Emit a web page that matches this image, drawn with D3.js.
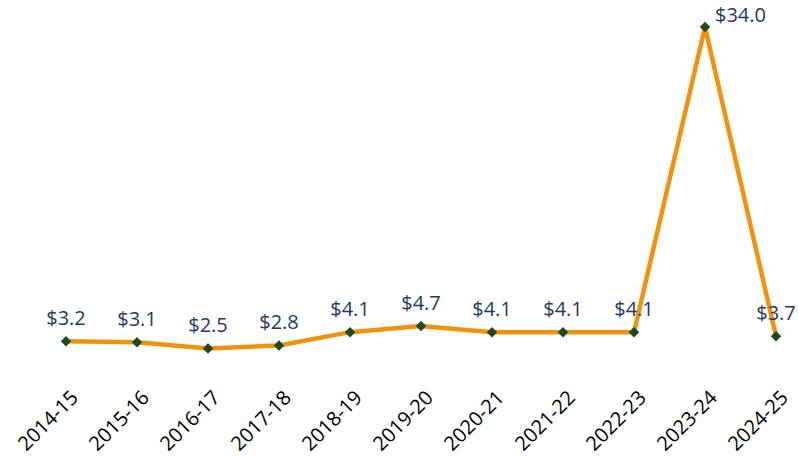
<!DOCTYPE html>
<html>
<head>
<meta charset="utf-8">
<script src="https://cdn.jsdelivr.net/npm/d3@7"></script>
<style>
  body { margin: 0; background: #fff; }
  svg { display: block; font-family: "Open Sans", "Liberation Sans", sans-serif; }
</style>
</head>
<body>
<div id="chart"></div>
<script>
const years = ["2014-15", "2015-16", "2016-17", "2017-18", "2018-19", "2019-20",
               "2020-21", "2021-22", "2022-23", "2023-24", "2024-25"];
const values = [3.2, 3.1, 2.5, 2.8, 4.1, 4.7, 4.1, 4.1, 4.1, 34.0, 3.7];

const width = 798, height = 456;

const svg = d3.select("#chart").append("svg")
    .attr("width", width)
    .attr("height", height);

const x = d3.scalePoint()
    .domain(years)
    .range([66, 776]);

const y = d3.scaleLinear()
    .domain([0, 34])
    .range([374, 27]);

const data = years.map((d, i) => ({ year: d, value: values[i] }));

const line = d3.line()
    .x(d => x(d.year))
    .y(d => y(d.value));

svg.append("path")
    .datum(data)
    .attr("fill", "none")
    .attr("stroke", "#ef930e")
    .attr("stroke-width", 4.5)
    .attr("stroke-linejoin", "round")
    .attr("d", line);

svg.selectAll(".marker")
    .data(data)
    .enter().append("path")
    .attr("class", "marker")
    .attr("d", d3.symbol().type(d3.symbolDiamond2).size(70))
    .attr("transform", d => "translate(" + x(d.year) + "," + y(d.value) + ")")
    .attr("fill", "#1f4a1f");

// value labels
svg.selectAll(".val")
    .data(data)
    .enter().append("text")
    .attr("class", "val")
    .attr("x", d => d.value > 30 ? x(d.year) + 10 : x(d.year))
    .attr("y", d => d.value > 30 ? y(d.value) - 5 : y(d.value) - 16)
    .attr("text-anchor", d => d.value > 30 ? "start" : "middle")
    .attr("fill", "#1f3864")
    .style("font-size", "20px")
    .text(d => "$" + d.value.toFixed(1));

// x axis labels
const xAxis = d3.axisBottom(x).tickSize(0).tickPadding(0);
const gx = svg.append("g")
    .attr("transform", "translate(0,394)")
    .call(xAxis);
gx.select(".domain").remove();
gx.selectAll("text")
    .attr("fill", "#000")
    .style("font-size", "20px")
    .style("font-family", "'Open Sans', 'Liberation Sans', sans-serif")
    .attr("text-anchor", "end")
    .attr("dy", "0.35em")
    .attr("transform", "translate(8,0) rotate(-45)");
</script>
</body>
</html>
